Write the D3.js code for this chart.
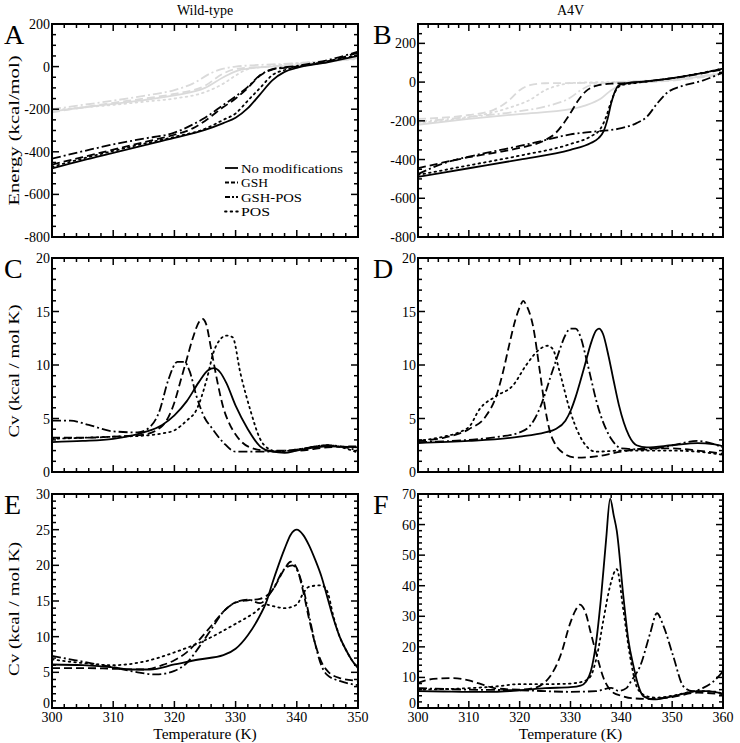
<!DOCTYPE html>
<html><head><meta charset="utf-8">
<script src="https://cdn.jsdelivr.net/npm/d3@7"></script>
<style>
body{margin:0;background:#fff;}
svg{display:block;font-family:"Liberation Serif","Times New Roman",serif;}
</style></head>
<body>
<svg id="c" width="740" height="743"></svg>
<script>
// ---------------- DATA ----------------
const seriesNames = ["No modifications","GSH","GSH-POS","POS"];
const columnTitles = ["Wild-type","A4V"];
const panelLetters = ["A","B","C","D","E","F"];
const xTicksWT = [300,310,320,330,340,350];
const xTicksA4V = [300,310,320,330,340,350,360];

// Panel A (energy, wild-type), black curves
const A_noMod = [[300,-478],[305,-440],[310,-405],[315,-370],[320,-335],[325,-297],[328,-265],[330,-240],[332,-195],[334,-130],[336,-65],[338,-25],[340,-6],[345,20],[350,50]];
const A_gsh = [[300,-460],[305,-425],[310,-390],[315,-355],[320,-320],[323,-290],[325,-255],[328,-190],[330,-150],[332,-100],[334,-42],[336,-14],[340,0],[345,25],[350,65]];
const A_gshPos = [[300,-432],[305,-398],[310,-365],[315,-338],[320,-310],[323,-272],[325,-240],[328,-180],[330,-140],[332,-95],[334,-40],[336,-12],[340,3],[345,30],[350,70]];
const A_pos = [[300,-470],[305,-432],[310,-396],[315,-362],[320,-330],[325,-292],[328,-250],[330,-220],[332,-160],[334,-100],[336,-40],[338,-16],[340,-2],[345,24],[350,55]];
// Panel A, grey curves
const A_noModG = [[300,-210],[305,-192],[310,-175],[315,-157],[320,-135],[325,-100],[328,-50],[330,-22],[333,-6],[340,6],[350,40]];
const A_gshG = [[300,-215],[305,-192],[310,-170],[315,-150],[320,-128],[325,-90],[328,-32],[330,-12],[335,0],[340,10],[350,42]];
const A_gshPosG = [[300,-200],[305,-180],[310,-160],[315,-137],[320,-110],[323,-80],[326,-30],[328,-10],[330,0],[340,16],[350,42]];
const A_posG = [[300,-205],[305,-192],[310,-180],[315,-165],[320,-150],[325,-120],[328,-80],[330,-42],[332,-12],[335,0],[350,35]];

// Panel B (energy, A4V)
const B_noMod = [[300,-490],[310,-445],[320,-400],[330,-350],[334,-315],[335.5,-290],[336.5,-255],[337.3,-190],[338,-110],[338.8,-45],[339.6,-15],[341,-6],[345,4],[350,20],[355,42],[360,70]];
const B_gsh = [[300,-445],[305,-415],[310,-388],[315,-365],[320,-340],[325,-300],[327,-265],[329,-200],[330,-160],[331.5,-95],[333,-48],[335,-20],[338,-8],[341,-5],[350,20],[360,65]];
const B_gshPos = [[300,-475],[305,-420],[310,-385],[315,-357],[320,-330],[325,-300],[330,-270],[335,-255],[340,-238],[343,-212],[345,-180],[347,-112],[349,-55],[352,-20],[356,8],[360,50]];
const B_pos = [[300,-480],[305,-455],[310,-430],[320,-380],[330,-320],[334,-280],[335.8,-245],[337,-180],[338,-100],[339,-40],[340,-16],[343,-4],[350,20],[360,70]];
const B_noModG = [[300,-220],[310,-190],[320,-165],[330,-140],[333,-120],[336,-85],[338,-42],[340,-16],[343,-5],[350,10],[360,45]];
const B_gshG = [[300,-190],[310,-170],[315,-142],[318,-92],[320,-42],[322,-16],[325,-6],[330,-5],[345,0],[360,40]];
const B_gshPosG = [[300,-205],[310,-180],[320,-150],[326,-120],[330,-80],[332,-42],[334,-16],[337,-5],[350,15],[360,45]];
const B_posG = [[300,-210],[310,-182],[318,-132],[322,-92],[325,-42],[328,-15],[330,-5],[345,5],[360,45]];

// Panel C (Cv, wild-type)
const C_noMod = [[300,2.8],[305,2.9],[310,3.1],[315,3.7],[318,4.4],[320,5.3],[322,6.6],[324,8.4],[325.5,9.5],[326.5,9.7],[327.5,9.3],[328.5,8.3],[330,6.2],[332,4.0],[334,2.4],[336,1.9],[338,1.8],[340,2.0],[345,2.4],[350,2.3]];
const C_gsh = [[300,3.2],[305,3.2],[310,3.3],[315,3.5],[318,4.3],[320,6.5],[321,8.5],[322,10.5],[323,12.5],[324,14.0],[324.6,14.3],[325.2,13.8],[326,11.5],[327,8.5],[328,6.0],[329,4.5],[330,3.5],[332,2.4],[335,2.0],[340,2.0],[345,2.3],[350,2.4]];
const C_gshPos = [[300,4.8],[303,4.8],[306,4.4],[310,3.8],[314,3.7],[316,4.2],[317.5,5.6],[319,8.6],[320.5,10.3],[321.6,10.3],[322.5,9.4],[323.6,7.1],[325,5.0],[326,4.2],[328,2.75],[330,1.9],[335,1.9],[340,2.1],[345,2.5],[350,2.0]];
const C_pos = [[300,3.1],[305,3.2],[310,3.3],[315,3.4],[318,3.6],[320,3.9],[322,4.8],[323.6,5.8],[325.3,8.7],[326.4,11.2],[327.5,12.4],[328.5,12.75],[329.5,12.6],[330.8,9.2],[332.5,5.6],[334,3.1],[335.3,2.2],[337,1.9],[340,2.1],[345,2.5],[350,1.8]];

// Panel D (Cv, A4V)
const D_noMod = [[300,2.7],[310,2.9],[320,3.3],[325,3.7],[327,4.0],[329,4.8],[330,5.7],[331,7.0],[332,8.6],[333,10.3],[334,12.0],[335,13.2],[335.6,13.4],[336.4,12.9],[337.5,10.8],[338.5,8.5],[339.5,6.3],[340.5,4.6],[341.5,3.4],[343,2.5],[345,2.3],[350,2.5],[355,2.7],[358,2.6],[360,2.4]];
const D_gsh = [[300,2.9],[305,3.2],[310,4.0],[313.4,5.25],[315.4,7.1],[316.7,9.3],[318,12.0],[319.2,14.3],[320.2,15.6],[320.7,16.0],[321.3,15.6],[322.6,13.7],[324,9.3],[325,6.0],[326,3.7],[327,2.6],[328.5,1.8],[331,1.35],[334,1.4],[340,1.9],[345,2.2],[350,2.2],[355,2.0],[360,1.7]];
const D_gshPos = [[300,2.8],[310,3.0],[316,3.3],[320,3.7],[322,4.3],[323,5.0],[324,6.0],[325,7.3],[326,8.8],[327,10.2],[328,11.6],[329,12.8],[330,13.4],[331,13.4],[332,12.6],[333,10.8],[334,8.8],[335,6.8],[336,5.2],[337,4.0],[338,3.1],[339,2.5],[340,2.2],[345,2.1],[350,2.5],[355,2.9],[360,2.3]];
const D_pos = [[300,2.9],[305,3.3],[308,3.7],[310.2,4.3],[312,5.8],[315.4,7.1],[318.7,8.1],[321.3,10.0],[324,11.5],[325.5,11.8],[326.5,11.5],[327.9,9.3],[329.8,5.9],[331.8,3.4],[335,1.9],[340,2.0],[345,2.0],[350,2.0],[355,1.9],[360,1.6]];

// Panel E (Cv, wild-type, second set)
const E_noMod = [[300,6.1],[305,6.0],[310,5.7],[313,5.4],[316,5.4],[320,6.1],[324,6.8],[328,7.4],[330,8.3],[332,10.2],[334,13.0],[335,14.8],[336,17.5],[337,20.0],[338,22.3],[339,24.3],[340,25.0],[341,24.3],[342,22.8],[343,20.8],[344,18.5],[345,15.5],[346,12.5],[347,10.0],[348,8.2],[349,6.7],[350,5.6]];
const E_gsh = [[300,5.6],[305,5.6],[310,5.5],[315,5.4],[318,6.0],[320,6.7],[322,7.8],[324,9.5],[326,11.5],[328,13.5],[330,14.8],[332,15.1],[334,15.3],[336,16.5],[338,19.5],[339,20.5],[340,19.6],[341,16.5],[342,12.5],[343,9.0],[344,6.5],[345,5.2],[347,4.2],[350,3.8]];
const E_gshPos = [[300,7.3],[305,6.5],[310,5.7],[314,5.0],[317,4.7],[320,5.2],[322,6.3],[324,8.5],[326,11.0],[328,13.5],[330,14.8],[332,15.2],[334,14.7],[336,16.5],[338,19.5],[339.3,20.0],[340,19.4],[341,17.0],[342,13.0],[343,9.0],[344,6.0],[345,4.6],[347,3.8],[350,3.2]];
const E_pos = [[300,6.8],[305,6.3],[310,6.0],[315,6.5],[320,7.8],[325,9.5],[330,11.8],[333,13.3],[335,14.5],[336,14.3],[338,14.0],[340,14.5],[341,16.0],[342,17.0],[344,17.2],[345,16.3],[346,12.8],[347,10.0],[348,8.2],[349,6.7],[350,5.6]];

// Panel F (Cv, A4V, second set)
const F_noMod = [[300,5.5],[305,5.4],[310,5.3],[315,5.3],[320,5.8],[325,6.5],[330,6.8],[332,7.3],[333,8.5],[334,12.0],[335,21.0],[336,36.0],[337,55.0],[337.8,68.5],[338.5,63.0],[339.1,58.0],[340.4,36.5],[341.4,22.0],[342.4,13.6],[343.4,7.0],[344.4,3.8],[346.3,2.8],[350,3.8],[355,5.5],[357,5.5],[360,4.6]];
const F_gsh = [[300,8.2],[303,9.5],[307,9.8],[310,9.0],[313,7.5],[315,6.5],[320,6.0],[323,6.6],[325,8.5],[326,10.4],[328,17.0],[330,28.0],[331,32.0],[331.8,33.8],[333,31.0],[334,24.5],[335.2,17.0],[336.5,9.8],[338.5,4.9],[340,4.0],[342,3.2],[345,3.0],[350,3.6],[355,5.0],[360,4.5]];
const F_gshPos = [[300,6.5],[310,6.0],[320,5.8],[330,5.3],[335,5.5],[338,6.6],[339.5,5.6],[341,6.5],[342,9.0],[343.7,13.7],[345.7,24.6],[347,31.0],[348.3,26.8],[350.2,17.0],[352.2,7.1],[354,5.5],[356,6.5],[358,8.5],[360,12.0]];
const F_pos = [[300,6.0],[310,6.5],[315,7.0],[320,7.8],[325,7.8],[330,8.0],[333,9.0],[334,10.5],[335.2,17.0],[336.5,29.0],[337.8,40.0],[339.1,45.4],[340.4,32.0],[341.7,17.0],[343,7.1],[344,4.8],[345,3.8],[347,3.4],[350,4.0],[355,5.5],[358,5.4],[360,4.6]];

// ---------------- LAYOUT ----------------
const svg = d3.select("#c");
const styles = [
  {dash:null, cap:"butt"},
  {dash:"8,4", cap:"butt"},
  {dash:"9,3,2,3", cap:"butt"},
  {dash:"1.6,4", cap:"round"}
];
const colL = [52,358], colR = [418,723];
const rowY = [[24,237],[258,472],[494,708]];

const panels = [
  {letter:0, xr:colL, yr:rowY[0], xd:[300,350], yd:[-800,200], yMaj:200, yMin:50, xMaj:10, xMin:2,
   black:[A_noMod,A_gsh,A_gshPos,A_pos], grey:[A_noModG,A_gshG,A_gshPosG,A_posG], ylab:"Energy (kcal/mol)", ylabLen:150, ylabOff:0, xlabels:false, legend:true},
  {letter:1, xr:colR, yr:rowY[0], xd:[300,360], yd:[-800,300], yMaj:200, yMin:50, xMaj:10, xMin:2,
   black:[B_noMod,B_gsh,B_gshPos,B_pos], grey:[B_noModG,B_gshG,B_gshPosG,B_posG], ylab:null, xlabels:false},
  {letter:2, xr:colL, yr:rowY[1], xd:[300,350], yd:[0,20], yMaj:5, yMin:1, xMaj:10, xMin:2,
   black:[C_noMod,C_gsh,C_gshPos,C_pos], grey:[], ylab:"Cv (kcal / mol K)", ylabLen:133, ylabOff:6, xlabels:false},
  {letter:3, xr:colR, yr:rowY[1], xd:[300,360], yd:[0,20], yMaj:5, yMin:1, xMaj:10, xMin:2,
   black:[D_noMod,D_gsh,D_gshPos,D_pos], grey:[], ylab:null, xlabels:false},
  {letter:4, xr:colL, yr:rowY[2], xd:[300,350], yd:[0,30], yMaj:5, yMin:1, xMaj:10, xMin:2,
   black:[E_noMod,E_gsh,E_gshPos,E_pos], grey:[], ylab:"Cv (kcal / mol K)", ylabLen:134, ylabOff:8, xlabels:true, xt:xTicksWT},
  {letter:5, xr:colR, yr:rowY[2], xd:[300,360], yd:[0,70], yMaj:10, yMin:2, xMaj:10, xMin:2,
   black:[F_noMod,F_gsh,F_gshPos,F_pos], grey:[], ylab:null, xlabels:true, xt:xTicksA4V}
];

// column titles
svg.append("text").attr("x",(colL[0]+colL[1])/2).attr("y",15).attr("text-anchor","middle").attr("font-size",14).text(columnTitles[0]);
svg.append("text").attr("x",(colR[0]+colR[1])/2).attr("y",15).attr("text-anchor","middle").attr("font-size",14).text(columnTitles[1]);

function range(a,b,s){const r=[];for(let v=a;v<=b+1e-9;v+=s)r.push(+v.toFixed(6));return r;}

panels.forEach((p,i)=>{
  const x = d3.scaleLinear().domain(p.xd).range(p.xr);
  const y = d3.scaleLinear().domain(p.yd).range([p.yr[1],p.yr[0]]);
  const g = svg.append("g");
  const cid = "clip"+i;
  svg.append("clipPath").attr("id",cid).append("rect")
    .attr("x",p.xr[0]).attr("y",p.yr[0]).attr("width",p.xr[1]-p.xr[0]).attr("height",p.yr[1]-p.yr[0]);
  const line = d3.line().x(d=>x(d[0])).y(d=>y(d[1])).curve(d3.curveMonotoneX);
  const lg = g.append("g").attr("clip-path",`url(#${cid})`);
  p.grey.forEach((s,k)=>{
    lg.append("path").datum(s).attr("d",line).attr("fill","none").attr("stroke","#dadada")
      .attr("stroke-width",1.8).attr("stroke-dasharray",styles[k].dash).attr("stroke-linecap",styles[k].cap);
  });
  p.black.forEach((s,k)=>{
    lg.append("path").datum(s).attr("d",line).attr("fill","none").attr("stroke","#000")
      .attr("stroke-width",1.8).attr("stroke-dasharray",styles[k].dash).attr("stroke-linecap",styles[k].cap);
  });
  // ticks (inward, mirrored)
  const tk = g.append("g").attr("stroke","#000").attr("stroke-width",1.5);
  const yStart = Math.ceil(p.yd[0]/p.yMin)*p.yMin;
  range(yStart,p.yd[1],p.yMin).forEach(v=>{
    const maj = Math.abs(v/p.yMaj - Math.round(v/p.yMaj))<1e-6;
    const L = maj?7:4;
    tk.append("line").attr("x1",p.xr[0]).attr("x2",p.xr[0]+L).attr("y1",y(v)).attr("y2",y(v));
    tk.append("line").attr("x1",p.xr[1]).attr("x2",p.xr[1]-L).attr("y1",y(v)).attr("y2",y(v));
  });
  range(p.xd[0],p.xd[1],p.xMin).forEach(v=>{
    const maj = Math.abs(v/p.xMaj - Math.round(v/p.xMaj))<1e-6;
    const L = maj?7:4;
    tk.append("line").attr("y1",p.yr[1]).attr("y2",p.yr[1]-L).attr("x1",x(v)).attr("x2",x(v));
    tk.append("line").attr("y1",p.yr[0]).attr("y2",p.yr[0]+L).attr("x1",x(v)).attr("x2",x(v));
  });
  // frame
  g.append("rect").attr("x",p.xr[0]).attr("y",p.yr[0]).attr("width",p.xr[1]-p.xr[0]).attr("height",p.yr[1]-p.yr[0])
    .attr("fill","none").attr("stroke","#000").attr("stroke-width",2);
  // y tick labels
  const yl = g.append("g").attr("font-size",14).attr("text-anchor","end");
  const yStartMaj = Math.ceil(p.yd[0]/p.yMaj)*p.yMaj;
  range(yStartMaj,p.yd[1],p.yMaj).forEach(v=>{
    const lift = (p.xlabels && v===p.yd[0]) ? 5 : 0;
    yl.append("text").attr("x",p.xr[0]-2).attr("y",y(v)+5-lift).text(v);
  });
  // x tick labels
  if(p.xlabels){
    const xl = g.append("g").attr("font-size",14).attr("text-anchor","middle");
    p.xt.forEach(v=>{
      xl.append("text").attr("x",x(v)).attr("y",p.yr[1]+14).text(v);
    });
    g.append("text").attr("x",(p.xr[0]+p.xr[1])/2).attr("y",p.yr[1]+31).attr("text-anchor","middle")
      .attr("font-size",15.5).text("Temperature (K)");
  }
  if(p.ylab){
    const cy=(p.yr[0]+p.yr[1])/2 + p.ylabOff;
    g.append("text").attr("transform",`translate(19,${cy}) rotate(-90)`).attr("text-anchor","middle")
      .attr("font-size",15).attr("textLength",p.ylabLen).attr("lengthAdjust","spacingAndGlyphs").text(p.ylab);
  }
  // panel letter
  g.append("text").attr("x",p.xr[0]<200?4:373).attr("y",p.yr[0]+20).attr("font-size",28).text(panelLetters[p.letter]);
  if(p.legend){
    const lgd = g.append("g");
    seriesNames.forEach((n,k)=>{
      const yy = 168 + k*14.5;
      lgd.append("line").attr("x1",225).attr("x2",238).attr("y1",yy).attr("y2",yy).attr("stroke","#000")
        .attr("stroke-width",1.8).attr("stroke-dasharray",k===2?"5,2,2,2":(k===1?"4,2":styles[k].dash)).attr("stroke-linecap",styles[k].cap);
      lgd.append("text").attr("x",241).attr("y",yy+4.5).attr("font-size",12.5)
        .attr("textLength",[102,27,61,29][k]).attr("lengthAdjust","spacingAndGlyphs").text(n);
    });
  }
});
</script>
</body></html>
